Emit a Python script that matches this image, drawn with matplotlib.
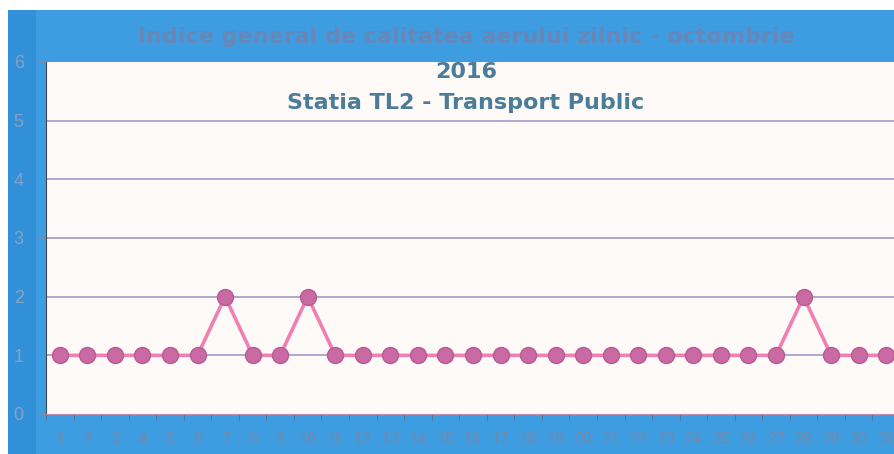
import matplotlib
matplotlib.use("Agg")
import matplotlib.pyplot as plt
from matplotlib.patches import Rectangle
from matplotlib.ticker import FixedLocator

days = list(range(1, 32))
values = [1, 1, 1, 1, 1, 1, 2, 1, 1, 2,
          1, 1, 1, 1, 1, 1, 1, 1, 1, 1,
          1, 1, 1, 1, 1, 1, 1, 2, 1, 1, 1]
yticks = [0, 1, 2, 3, 4, 5, 6]
title_lines = ["Indice general de calitatea aerului zilnic - octombrie",
               "2016",
               "Statia TL2 - Transport Public"]

W, H = 894, 454
fig = plt.figure(figsize=(W / 100, H / 100), dpi=100, facecolor="white")

# blue chart-area background
fig.patches.append(Rectangle((8 / W, 0), 1, 1 - 10 / H, transform=fig.transFigure,
                             facecolor="#3d9de0", edgecolor="none", zorder=-2))
fig.patches.append(Rectangle((8 / W, 0), 28 / W, 1 - 10 / H, transform=fig.transFigure,
                             facecolor="#3190d8", edgecolor="none", zorder=-1))

left, right = 46, 900
top, bottom = 62, 414
ax = fig.add_axes([left / W, 1 - bottom / H, (right - left) / W, (bottom - top) / H])
ax.set_facecolor("#fefaf7")

ax.set_xlim(0.5, 31.5)
ax.set_ylim(0, 6)
ax.set_yticks(yticks)
ax.set_xticks(days)
ax.xaxis.set_minor_locator(FixedLocator([d + 0.5 for d in range(0, 32)]))

for y in yticks[1:-1]:
    ax.axhline(y, color="#9c8ec4", lw=1.1, zorder=1)

ax.plot(days, values, color="#f27fb4", lw=2.6, zorder=3,
        marker="o", markersize=11.5, markerfacecolor="#c96aa3",
        markeredgecolor="#b85a94", markeredgewidth=1)

for s in ["top", "right"]:
    ax.spines[s].set_visible(False)
ax.spines["left"].set_color("#404850")
ax.spines["bottom"].set_color("#c08ab0")

ax.tick_params(axis="y", length=6, color="#6f8db0", labelcolor="#86a2c4",
               labelsize=13, pad=10)
ax.tick_params(axis="x", which="major", length=0, labelcolor="#7489aa",
               labelsize=11.5, pad=13)
ax.tick_params(axis="x", which="minor", length=4, color="#5d6e80")

fig.text(466 / W, 1 - 37 / H, title_lines[0], ha="center", va="center",
         fontsize=16, fontweight="bold", color="#6a86b6", family="DejaVu Sans")
fig.text(466 / W, 1 - 72 / H, title_lines[1], ha="center", va="center",
         fontsize=16, fontweight="bold", color="#4b7c9a", family="DejaVu Sans")
fig.text(466 / W, 1 - 103 / H, title_lines[2], ha="center", va="center",
         fontsize=16, fontweight="bold", color="#4b7c9a", family="DejaVu Sans")

for lab in ax.get_xticklabels() + ax.get_yticklabels():
    lab.set_family("Liberation Sans")

fig.savefig("out.png", dpi=100, facecolor="white")
